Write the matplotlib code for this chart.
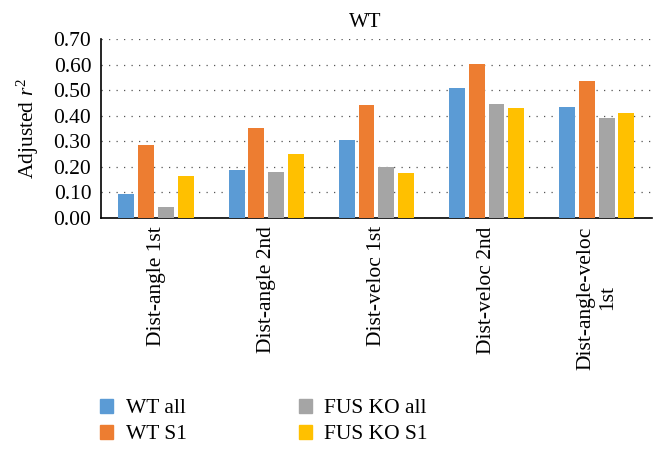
import numpy as np
import matplotlib
matplotlib.use("Agg")
import matplotlib.pyplot as plt
from matplotlib.patches import Patch

plt.rcParams['font.family'] = ['Liberation Serif', 'DejaVu Serif']
plt.rcParams['mathtext.fontset'] = 'custom'
plt.rcParams['mathtext.rm'] = 'Liberation Serif'
plt.rcParams['mathtext.it'] = 'Liberation Serif:italic'

# data
categories = ['Dist-angle 1st', 'Dist-angle 2nd', 'Dist-veloc 1st',
              'Dist-veloc 2nd', 'Dist-angle-veloc\n1st']
series_names = ['WT all', 'WT S1', 'FUS KO all', 'FUS KO S1']
wt_all = [0.094, 0.189, 0.306, 0.508, 0.432]
wt_s1 = [0.285, 0.353, 0.440, 0.601, 0.536]
fus_all = [0.043, 0.181, 0.200, 0.444, 0.392]
fus_s1 = [0.164, 0.248, 0.174, 0.430, 0.411]
colors = ['#5B9BD5', '#ED7D31', '#A5A5A5', '#FFC000']
yticks = [0.0, 0.1, 0.2, 0.3, 0.4, 0.5, 0.6, 0.7]

fs = 15.5

fig = plt.figure(figsize=(6.66, 4.53), dpi=100)
ax = fig.add_axes([0.1517, 0.519, 0.827, 0.395])

x = np.arange(len(categories))
pitch = 0.18
width = 0.145
for i, (vals, col) in enumerate(zip([wt_all, wt_s1, fus_all, fus_s1], colors)):
    ax.bar(x + (i - 1.5) * pitch, vals, width, color=col, zorder=3)

ax.set_xlim(-0.5, len(categories) - 0.5)
ax.set_ylim(0, 0.7)
ax.set_yticks(yticks)
ax.set_yticklabels([f'{v:.2f}' for v in yticks], fontsize=fs)
ax.set_xticks(x)
ax.set_xticklabels(categories, rotation=90, fontsize=fs, va='top', ha='center',
                   multialignment='center')
ax.tick_params(axis='y', length=0, pad=7)
ax.tick_params(axis='x', length=0, pad=6)
ax.yaxis.grid(True, linestyle=(0, (1, 5)), color='#555555', linewidth=0.9, zorder=0)
for s in ['top', 'right']:
    ax.spines[s].set_visible(False)
ax.spines['left'].set_linewidth(1.2)
ax.spines['bottom'].set_linewidth(1.2)

ax.set_ylabel('Adjusted $r^2$', fontsize=fs, labelpad=9)
# title is centred over the whole chart area, not the plot area
fig.text(0.548, 0.951, 'WT', fontsize=15, ha='center', va='center')

handles = [Patch(color=c) for c in colors]
fig.legend(handles, series_names, ncol=2, loc='upper left',
           bbox_to_anchor=(0.134, 0.143), frameon=False, fontsize=fs,
           handlelength=0.6, handleheight=0.6, handletextpad=0.6,
           columnspacing=5.2, labelspacing=0.3, borderpad=0)

fig.savefig('out.png', dpi=100)
